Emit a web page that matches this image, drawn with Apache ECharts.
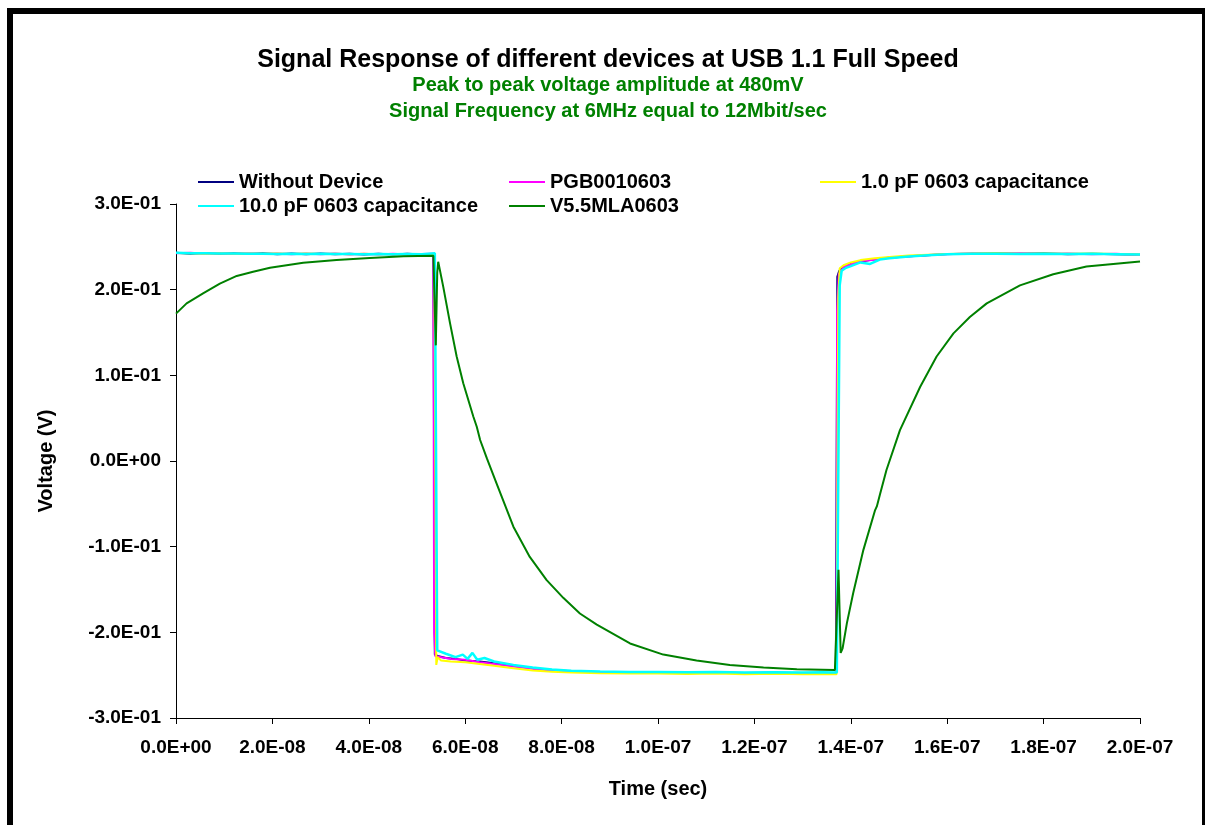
<!DOCTYPE html>
<html><head><meta charset="utf-8">
<script src="https://cdn.jsdelivr.net/npm/echarts@6/dist/echarts.min.js"></script>
<style>
html,body{margin:0;padding:0;background:#fff;}
#frame{position:absolute;left:7px;top:8px;width:1189px;height:900px;border-left:6px solid #000;border-top:6px solid #000;border-right:3px solid #000;}
#chart{position:absolute;left:0;top:0;width:1205px;height:825px;}
</style></head>
<body>
<div id="frame"></div>
<div id="chart"></div>
<script>
const titleText = 'Signal Response of different devices at USB 1.1 Full Speed';
const subText1 = 'Peak to peak voltage amplitude at 480mV';
const subText2 = 'Signal Frequency at 6MHz equal to 12Mbit/sec';
const seriesNames = ['Without Device', 'PGB0010603', '1.0 pF 0603 capacitance', '10.0 pF 0603 capacitance', 'V5.5MLA0603'];
const seriesColors = ['#000080', '#FF00FF', '#FFFF00', '#00FFFF', '#008000'];

const withoutDevice = [
 [0,0.2432],[3e-9,0.2420],[6e-9,0.2428],[9e-9,0.2418],[1.2e-8,0.2426],[1.5e-8,0.2416],[1.8e-8,0.2424],[2.1e-8,0.2414],
 [2.4e-8,0.2422],[2.7e-8,0.2413],[3.0e-8,0.2421],[3.3e-8,0.2412],[3.6e-8,0.2420],[3.9e-8,0.2411],[4.2e-8,0.2419],[4.5e-8,0.2410],
 [4.8e-8,0.2418],[5.1e-8,0.2410],[5.34e-8,0.2415],[5.37e-8,-0.226],[5.45e-8,-0.228],[5.6e-8,-0.230],[5.8e-8,-0.231],[6.0e-8,-0.233],
 [6.3e-8,-0.234],[6.6e-8,-0.236],[7.0e-8,-0.239],[7.4e-8,-0.242],[7.8e-8,-0.244],[8.2e-8,-0.2455],[8.8e-8,-0.2465],[9.4e-8,-0.2470],
 [1.0e-7,-0.2468],[1.06e-7,-0.2475],[1.12e-7,-0.2470],[1.18e-7,-0.2478],[1.24e-7,-0.2472],[1.30e-7,-0.2480],[1.34e-7,-0.2474],
 [1.369e-7,-0.2480],[1.372e-7,0.215],[1.376e-7,0.222],[1.385e-7,0.226],[1.40e-7,0.230],[1.42e-7,0.233],[1.45e-7,0.2355],
 [1.48e-7,0.2372],[1.52e-7,0.2390],[1.56e-7,0.2402],[1.60e-7,0.2415],[1.65e-7,0.2420],[1.70e-7,0.2426],[1.75e-7,0.2418],
 [1.80e-7,0.2424],[1.85e-7,0.2414],[1.90e-7,0.2420],[1.95e-7,0.2412],[2.0e-7,0.2408]
];
const pgb0010603 = [
 [0,0.2425],[3e-9,0.2430],[6e-9,0.2419],[9e-9,0.2427],[1.2e-8,0.2417],[1.5e-8,0.2425],[1.8e-8,0.2415],[2.1e-8,0.2423],
 [2.4e-8,0.2413],[2.7e-8,0.2422],[3.0e-8,0.2412],[3.3e-8,0.2421],[3.6e-8,0.2411],[3.9e-8,0.2420],[4.2e-8,0.2410],[4.5e-8,0.2419],
 [4.8e-8,0.2410],[5.1e-8,0.2417],[5.34e-8,0.2418],[5.355e-8,-0.200],[5.38e-8,-0.228],[5.5e-8,-0.229],[5.7e-8,-0.231],[6.0e-8,-0.232],
 [6.3e-8,-0.235],[6.6e-8,-0.237],[7.0e-8,-0.240],[7.4e-8,-0.2425],[7.8e-8,-0.2445],[8.2e-8,-0.2458],[8.8e-8,-0.2462],[9.4e-8,-0.2474],
 [1.0e-7,-0.2465],[1.06e-7,-0.2478],[1.12e-7,-0.2468],[1.18e-7,-0.2476],[1.24e-7,-0.2470],[1.30e-7,-0.2478],[1.34e-7,-0.2472],
 [1.369e-7,-0.2478],[1.3705e-7,-0.200],[1.3715e-7,0.175],[1.375e-7,0.218],[1.385e-7,0.2265],[1.40e-7,0.2295],[1.42e-7,0.2335],
 [1.45e-7,0.2350],[1.48e-7,0.2376],[1.52e-7,0.2386],[1.56e-7,0.2406],[1.60e-7,0.2412],[1.65e-7,0.2424],[1.70e-7,0.2417],
 [1.75e-7,0.2425],[1.80e-7,0.2415],[1.85e-7,0.2422],[1.90e-7,0.2413],[1.95e-7,0.2419],[2.0e-7,0.2404]
];
const cap1pF = [
 [0,0.2428],[3e-9,0.2424],[6e-9,0.2420],[9e-9,0.2425],[1.2e-8,0.2419],[1.5e-8,0.2423],[1.8e-8,0.2418],[2.1e-8,0.2422],
 [2.4e-8,0.2416],[2.7e-8,0.2421],[3.0e-8,0.2415],[3.3e-8,0.2420],[3.6e-8,0.2414],[3.9e-8,0.2418],[4.2e-8,0.2413],[4.5e-8,0.2417],
 [4.8e-8,0.2412],[5.1e-8,0.2416],[5.36e-8,0.2416],[5.40e-8,-0.238],[5.43e-8,-0.229],[5.5e-8,-0.233],[5.7e-8,-0.234],[6.0e-8,-0.235],
 [6.3e-8,-0.237],[6.6e-8,-0.239],[7.0e-8,-0.242],[7.4e-8,-0.2445],[7.8e-8,-0.246],[8.2e-8,-0.2470],[8.8e-8,-0.2478],[9.4e-8,-0.2482],
 [1.0e-7,-0.2480],[1.06e-7,-0.2486],[1.12e-7,-0.2482],[1.18e-7,-0.2488],[1.24e-7,-0.2484],[1.30e-7,-0.2490],[1.34e-7,-0.2486],
 [1.3705e-7,-0.2490],[1.374e-7,0.190],[1.377e-7,0.225],[1.385e-7,0.2285],[1.40e-7,0.2318],[1.42e-7,0.2345],[1.45e-7,0.2368],
 [1.48e-7,0.2382],[1.52e-7,0.2398],[1.56e-7,0.2408],[1.60e-7,0.2416],[1.65e-7,0.2421],[1.70e-7,0.2424],[1.75e-7,0.2420],
 [1.80e-7,0.2423],[1.85e-7,0.2418],[1.90e-7,0.2421],[1.95e-7,0.2416],[2.0e-7,0.2410]
];
const cap10pF = [
 [0,0.2430],[3e-9,0.2425],[6e-9,0.2424],[9e-9,0.2421],[1.2e-8,0.2422],[1.5e-8,0.2419],[1.8e-8,0.2420],[2.1e-8,0.2417],
 [2.4e-8,0.2419],[2.7e-8,0.2416],[3.0e-8,0.2418],[3.3e-8,0.2415],[3.6e-8,0.2417],[3.9e-8,0.2414],[4.2e-8,0.2416],[4.5e-8,0.2413],
 [4.8e-8,0.2415],[5.1e-8,0.2413],[5.37e-8,0.2425],[5.42e-8,-0.221],[5.6e-8,-0.225],[5.8e-8,-0.229],[5.95e-8,-0.226],[6.05e-8,-0.231],
 [6.15e-8,-0.224],[6.25e-8,-0.232],[6.4e-8,-0.230],[6.6e-8,-0.234],[6.8e-8,-0.236],[7.0e-8,-0.238],[7.4e-8,-0.241],[7.8e-8,-0.2435],
 [8.2e-8,-0.2448],[8.8e-8,-0.2458],[9.4e-8,-0.2463],[1.0e-7,-0.2462],[1.06e-7,-0.2467],[1.12e-7,-0.2464],[1.18e-7,-0.2469],
 [1.24e-7,-0.2465],[1.30e-7,-0.2470],[1.34e-7,-0.2466],[1.371e-7,-0.2470],[1.377e-7,0.205],[1.381e-7,0.222],[1.39e-7,0.2255],
 [1.40e-7,0.2275],[1.42e-7,0.2318],[1.44e-7,0.2300],[1.46e-7,0.2352],[1.48e-7,0.2368],[1.52e-7,0.2388],[1.56e-7,0.2402],
 [1.60e-7,0.2412],[1.65e-7,0.2418],[1.70e-7,0.2420],[1.75e-7,0.2417],[1.80e-7,0.2419],[1.85e-7,0.2416],[1.90e-7,0.2418],
 [1.95e-7,0.2414],[2.0e-7,0.2410]
];
const v55mla0603 = [
 [0,0.172],[2.2e-9,0.184],[5.7e-9,0.196],[9.1e-9,0.207],[1.26e-8,0.216],[1.60e-8,0.221],[1.95e-8,0.2256],[2.64e-8,0.2314],
 [3.33e-8,0.2345],[4.02e-8,0.237],[4.72e-8,0.239],[5.34e-8,0.2396],[5.37e-8,0.239],[5.39e-8,0.135],[5.42e-8,0.220],[5.44e-8,0.2326],
 [5.546e-8,0.203],[5.685e-8,0.161],[5.823e-8,0.122],[5.96e-8,0.0907],[6.17e-8,0.0517],[6.24e-8,0.040],[6.27e-8,0.042],[6.31e-8,0.0245],
 [6.45e-8,0.003],[6.65e-8,-0.026],[7.0e-8,-0.0767],[7.34e-8,-0.112],[7.69e-8,-0.139],[8.04e-8,-0.160],[8.38e-8,-0.178],
 [8.73e-8,-0.191],[9.42e-8,-0.213],[1.011e-7,-0.226],[1.08e-7,-0.233],[1.149e-7,-0.238],[1.219e-7,-0.241],[1.288e-7,-0.243],
 [1.367e-7,-0.244],[1.371e-7,-0.245],[1.3745e-7,-0.127],[1.379e-7,-0.224],[1.383e-7,-0.2186],[1.392e-7,-0.189],[1.405e-7,-0.154],
 [1.426e-7,-0.104],[1.450e-7,-0.058],[1.454e-7,-0.053],[1.461e-7,-0.038],[1.474e-7,-0.0105],[1.502e-7,0.036],[1.544e-7,0.0867],
 [1.578e-7,0.122],[1.613e-7,0.149],[1.647e-7,0.168],[1.682e-7,0.184],[1.751e-7,0.205],[1.82e-7,0.218],[1.889e-7,0.227],[2.0e-7,0.233]
];
const seriesData = [withoutDevice, pgb0010603, cap1pF, cap10pF, v55mla0603];

const xMin = 0, xMax = 2e-7, xInterval = 2e-8;
const yMin = -0.3, yMax = 0.3, yInterval = 0.1;

function sci(v) {
  if (Math.abs(v) < 1e-20) return '0.0E+00';
  const s = v.toExponential(1);
  const parts = s.split('e');
  const e = parseInt(parts[1], 10);
  const sign = e < 0 ? '-' : '+';
  const d = Math.abs(e);
  return parts[0] + 'E' + sign + (d < 10 ? '0' : '') + d;
}

const font = '"Liberation Sans", Arial, sans-serif';
const chart = echarts.init(document.getElementById('chart'), null, {renderer: 'canvas'});
chart.setOption({
  animation: false,
  title: [
    {text: titleText, left: 608, top: 48, padding: 0, textAlign: 'center', textStyle: {fontFamily: font, fontWeight: 'bold', fontSize: 25, color: '#000'}},
    {text: subText1, left: 608, top: 75, padding: 0, textAlign: 'center', textStyle: {fontFamily: font, fontWeight: 'bold', fontSize: 20, color: '#008000'}},
    {text: subText2, left: 608, top: 101, padding: 0, textAlign: 'center', textStyle: {fontFamily: font, fontWeight: 'bold', fontSize: 20, color: '#008000'}}
  ],
  legend: {
    data: seriesNames,
    left: 198, top: 172, width: 960, padding: 0,
    orient: 'horizontal',
    icon: 'rect', itemWidth: 36, itemHeight: 2, itemGap: 4,
    textStyle: {fontFamily: font, fontWeight: 'bold', fontSize: 20, color: '#000', width: 266, height: 20, lineHeight: 20}
  },
  grid: {left: 176, right: 65, top: 204, bottom: 107, containLabel: false},
  xAxis: {
    type: 'value', min: xMin, max: xMax, interval: xInterval,
    name: 'Time (sec)', nameLocation: 'middle', nameGap: 61,
    nameTextStyle: {fontFamily: font, fontWeight: 'bold', fontSize: 20, color: '#000'},
    axisLine: {show: true, onZero: false, lineStyle: {color: '#000', width: 1}},
    axisTick: {show: true, inside: false, length: 6, lineStyle: {color: '#000'}},
    axisLabel: {formatter: sci, margin: 20, fontFamily: font, fontWeight: 'bold', fontSize: 19, color: '#000'},
    splitLine: {show: false}
  },
  yAxis: {
    type: 'value', min: yMin, max: yMax, interval: yInterval,
    name: 'Voltage (V)', nameLocation: 'middle', nameGap: 120, nameRotate: 90,
    nameTextStyle: {fontFamily: font, fontWeight: 'bold', fontSize: 20, color: '#000'},
    axisLine: {show: true, onZero: false, lineStyle: {color: '#000', width: 1}},
    axisTick: {show: true, inside: false, length: 6, lineStyle: {color: '#000'}},
    axisLabel: {formatter: sci, margin: 15, fontFamily: font, fontWeight: 'bold', fontSize: 19, color: '#000'},
    splitLine: {show: false}
  },
  series: seriesNames.map((n, i) => ({
    name: n, type: 'line', data: seriesData[i], symbol: 'none', showSymbol: false,
    lineStyle: {color: seriesColors[i], width: i === 3 ? 2.5 : 2},
    itemStyle: {color: seriesColors[i]}, z: 2 + i
  }))
});
</script>
</body></html>
